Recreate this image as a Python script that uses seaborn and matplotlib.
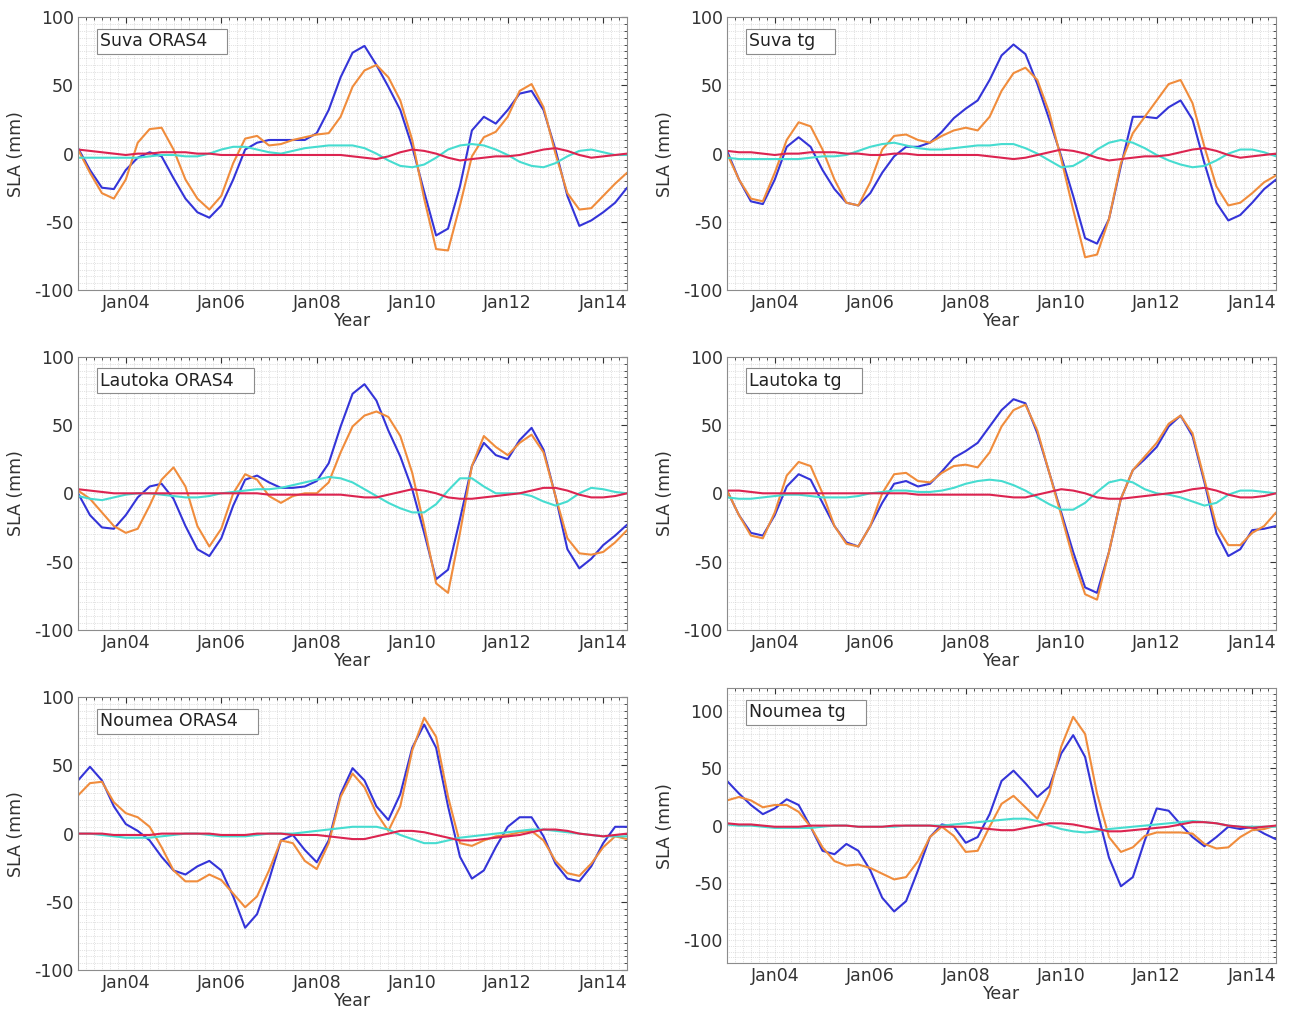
import numpy as np
import matplotlib
matplotlib.use("Agg")
import matplotlib.pyplot as plt
import seaborn as sns
from matplotlib.ticker import MultipleLocator

# quarterly time axis (decimal years)
quarters = np.arange(2003.0, 2014.51, 0.25)

# ---------------- Suva ----------------
suva_oras4_blue = [4, -12, -25, -26, -12, -3, 1, -2, -18, -33, -43, -47,
                   -38, -19, 3, 8, 10, 10, 10, 10, 15, 32, 56, 74,
                   79, 65, 49, 32, 5, -28, -60, -55, -24, 17, 27, 22,
                   32, 44, 46, 32, 3, -31, -53, -49, -43, -36, -25]
suva_oras4_orange = [3, -14, -29, -33, -19, 8, 18, 19, 3, -19, -33, -41,
                     -31, -7, 11, 13, 6, 7, 10, 12, 14, 15, 27, 49,
                     61, 65, 56, 39, 10, -33, -70, -71, -38, -2, 12, 16,
                     27, 46, 51, 34, 0, -29, -41, -40, -31, -22, -14]
suva_oras4_cyan = [-3, -3, -3, -3, -3, -3, -2, -1, -1, -2, -2, 0,
                   3, 5, 5, 3, 1, 0, 2, 4, 5, 6, 6, 6,
                   4, 0, -5, -9, -10, -8, -3, 3, 6, 7, 6, 3,
                   -1, -6, -9, -10, -7, -2, 2, 3, 1, -1, -1]
suva_oras4_red = [3, 2, 1, 0, -1, 0, 0, 1, 1, 1, 0, 0,
                  -1, -1, -1, -1, -1, -1, -1, -1, -1, -1, -1, -2,
                  -3, -4, -2, 1, 3, 2, 0, -3, -5, -4, -3, -2,
                  -2, -1, 1, 3, 4, 2, -1, -3, -2, -1, 0]

suva_tg_blue = [2, -19, -35, -37, -19, 5, 12, 5, -12, -26, -36, -38,
                -29, -14, -2, 5, 5, 8, 16, 26, 33, 39, 54, 72,
                80, 73, 51, 25, -2, -31, -62, -66, -48, -9, 27, 27,
                26, 34, 39, 25, -7, -36, -49, -45, -36, -26, -19]
suva_tg_orange = [0, -19, -33, -35, -14, 10, 23, 20, 3, -19, -36, -38,
                  -21, 3, 13, 14, 10, 8, 13, 17, 19, 17, 27, 46,
                  59, 63, 54, 30, -4, -41, -76, -74, -48, -7, 15, 27,
                  39, 51, 54, 37, 5, -24, -38, -36, -29, -21, -16]
suva_tg_cyan = [-3, -4, -4, -4, -4, -4, -4, -3, -2, -2, -1, 2,
                5, 7, 8, 6, 4, 3, 3, 4, 5, 6, 6, 7,
                7, 4, 0, -5, -10, -9, -4, 3, 8, 10, 8, 4,
                -1, -5, -8, -10, -9, -5, 0, 3, 3, 1, -2]
suva_tg_red = [2, 1, 1, 0, -1, 0, 0, 1, 1, 1, 0, 0,
               -1, -1, 0, 0, -1, -1, -1, -1, -1, -1, -2, -3,
               -4, -3, -1, 1, 3, 2, 0, -3, -5, -4, -3, -2,
               -2, -1, 1, 3, 4, 2, -1, -3, -2, -1, 0]

# ---------------- Lautoka ----------------
lautoka_oras4_blue = [0, -16, -25, -26, -16, -3, 5, 7, -4, -24, -41, -46,
                      -33, -9, 10, 13, 8, 4, 4, 5, 9, 22, 49, 73,
                      80, 68, 46, 27, 3, -29, -63, -56, -19, 20, 37, 28,
                      25, 39, 48, 32, -2, -41, -55, -48, -38, -31, -23]
lautoka_oras4_orange = [2, -4, -14, -24, -29, -26, -9, 10, 19, 5, -24, -39,
                        -26, 0, 14, 10, -2, -7, -2, 0, 0, 8, 30, 49,
                        57, 60, 56, 42, 15, -24, -66, -73, -29, 20, 42, 34,
                        28, 37, 43, 30, -2, -33, -44, -45, -43, -36, -27]
lautoka_oras4_cyan = [-2, -4, -5, -3, -1, 0, 0, -1, -2, -3, -3, -2,
                      0, 1, 2, 3, 3, 4, 6, 8, 10, 12, 11, 8,
                      3, -2, -7, -11, -14, -14, -8, 2, 11, 11, 5, 0,
                      0, 0, -2, -6, -9, -6, 0, 4, 3, 1, 0]
lautoka_oras4_red = [3, 2, 1, 0, 0, 0, 0, 0, 0, 0, 0, 0,
                     0, 0, 0, 0, -1, -1, -1, -1, -1, -1, -1, -2,
                     -3, -3, -1, 1, 3, 2, 0, -3, -4, -4, -3, -2,
                     -1, 0, 2, 4, 4, 2, -1, -3, -3, -2, 0]

lautoka_tg_blue = [2, -16, -29, -31, -16, 5, 14, 10, -7, -24, -36, -39,
                   -24, -7, 7, 9, 5, 7, 16, 26, 31, 37, 49, 61,
                   69, 66, 44, 15, -14, -43, -69, -73, -43, -4, 17, 25,
                   34, 49, 57, 42, 8, -29, -46, -41, -27, -26, -24]
lautoka_tg_orange = [2, -16, -31, -33, -14, 13, 23, 20, 0, -24, -37, -39,
                     -24, 0, 14, 15, 9, 8, 15, 20, 21, 19, 30, 49,
                     61, 65, 46, 15, -16, -48, -74, -78, -43, -4, 17, 27,
                     37, 51, 57, 44, 10, -24, -38, -38, -29, -24, -14]
lautoka_tg_cyan = [-3, -4, -4, -3, -2, -1, -1, -2, -3, -3, -3, -2,
                   0, 1, 2, 2, 1, 1, 2, 4, 7, 9, 10, 9,
                   6, 2, -3, -8, -12, -12, -7, 1, 8, 10, 8, 3,
                   0, -1, -3, -6, -9, -7, -1, 2, 2, 1, 0]
lautoka_tg_red = [2, 2, 1, 0, 0, 0, 0, 0, 0, 0, 0, 0,
                  0, 0, 0, 0, -1, -1, -1, -1, -1, -1, -1, -2,
                  -3, -3, -1, 1, 3, 2, 0, -3, -4, -4, -3, -2,
                  -1, 0, 1, 3, 4, 2, -1, -3, -3, -2, 0]

# ---------------- Noumea ----------------
noumea_oras4_blue = [39, 49, 39, 20, 7, 2, -5, -17, -27, -30, -24, -20,
                     -27, -46, -69, -59, -34, -5, -1, -12, -21, -5, 29, 48,
                     39, 20, 10, 29, 63, 80, 63, 20, -17, -33, -27, -10,
                     5, 12, 12, -2, -22, -33, -35, -24, -7, 5, 5]
noumea_oras4_orange = [28, 37, 38, 23, 15, 12, 5, -10, -27, -35, -35, -30,
                       -34, -44, -54, -46, -27, -5, -7, -20, -26, -7, 27, 44,
                       34, 15, 2, 20, 61, 85, 71, 27, -7, -9, -5, -2,
                       -1, 1, 2, -5, -20, -29, -31, -22, -10, -2, -4]
noumea_oras4_cyan = [0, 0, -1, -2, -3, -3, -3, -2, -1, 0, 0, -1,
                     -2, -2, -2, -1, 0, 0, 0, 1, 2, 3, 4, 5,
                     5, 5, 3, -1, -4, -7, -7, -5, -3, -2, -1, 0,
                     1, 2, 3, 3, 2, 1, 0, -1, -2, -2, -2]
noumea_oras4_red = [0, 0, 0, -1, -1, -1, -1, 0, 0, 0, 0, 0,
                    -1, -1, -1, 0, 0, 0, -1, -1, -1, -2, -3, -4,
                    -4, -2, 0, 2, 2, 1, -1, -3, -5, -5, -4, -3,
                    -2, -1, 1, 3, 3, 2, 0, -1, -2, -1, 0]

noumea_tg_blue = [39, 28, 18, 10, 15, 23, 18, -1, -22, -25, -16, -22,
                  -39, -63, -75, -66, -39, -10, 1, -1, -15, -10, 10, 39,
                  48, 37, 25, 34, 63, 79, 60, 13, -28, -53, -45, -13,
                  15, 13, 1, -10, -18, -10, -1, -3, -1, -7, -12]
noumea_tg_orange = [22, 25, 22, 16, 18, 18, 12, -1, -19, -31, -35, -34,
                    -37, -42, -47, -45, -31, -10, -1, -9, -23, -22, -1, 19,
                    26, 16, 6, 28, 69, 95, 80, 28, -10, -23, -19, -9,
                    -6, -6, -6, -7, -16, -20, -19, -10, -4, -3, 0]
noumea_tg_cyan = [1, 0, 0, -1, -2, -2, -2, -2, -1, 0, 0, -1,
                  -1, -1, -1, 0, 0, 0, 0, 1, 2, 3, 4, 5,
                  6, 6, 4, 0, -3, -5, -6, -5, -3, -2, -1, 0,
                  1, 2, 3, 4, 3, 2, 0, -1, -1, -1, -1]
noumea_tg_red = [2, 1, 1, 0, -1, -1, -1, 0, 0, 0, 0, -1,
                 -1, -1, 0, 0, 0, 0, -1, -1, -1, -2, -3, -4,
                 -4, -2, 0, 2, 2, 1, -1, -3, -5, -5, -4, -3,
                 -2, -1, 1, 3, 3, 2, 0, -1, -2, -1, 0]

year_ticks = [2004, 2006, 2008, 2010, 2012, 2014]
year_labels = ["Jan04", "Jan06", "Jan08", "Jan10", "Jan12", "Jan14"]

line_colors = ["#3434d8", "#f08c3c", "#46dcd0", "#dc2450"]


def draw_panel(ax, title, series, ylim=(-100, 100)):
    """One SLA panel with four series"""
    for vals, col in zip(series, line_colors):
        sns.lineplot(x=quarters, y=vals, color=col, lw=1.5, ax=ax)

    ax.set_xlim(2003.0, 2014.5)
    ax.set_ylim(*ylim)
    ax.set_xticks(year_ticks)
    ax.set_xticklabels(year_labels)
    ax.set_yticks([-100, -50, 0, 50, 100])
    ax.xaxis.set_minor_locator(MultipleLocator(1 / 6))
    ax.yaxis.set_minor_locator(MultipleLocator(5))
    ax.grid(True, which="both", color="#c8c8c8", lw=0.5, ls=":")
    ax.tick_params(which="both", direction="in", top=True, right=True,
                   labelsize=12.5, pad=3, colors="#333333")
    ax.tick_params(which="major", length=4)
    ax.tick_params(which="minor", length=2)
    for sp in ax.spines.values():
        sp.set_color("#8c8c8c")
        sp.set_linewidth(0.8)

    ax.set_xlabel("Year", fontsize=12.5, labelpad=0, color="#333333")
    ax.set_ylabel("SLA (mm)", fontsize=12.5, labelpad=7, color="#333333")
    ax.text(0.04, 0.912, title + "   ", transform=ax.transAxes,
            fontsize=12.5, va="center", ha="left", color="#222222",
            bbox=dict(facecolor="white", edgecolor="#8c8c8c", lw=0.8,
                      boxstyle="square,pad=0.2"))


def main():
    sns.set_style("white")
    plt.rcParams["font.family"] = ["DejaVu Sans"]
    plt.rcParams["axes.unicode_minus"] = False

    fig = plt.figure(figsize=(12.9, 10.14), dpi=100)

    left_x, right_x = 0.0605, 0.5636
    width = 0.4256
    height = 0.269

    ax1 = fig.add_axes([left_x, 0.714, width, height])
    ax2 = fig.add_axes([right_x, 0.714, width, height])
    ax3 = fig.add_axes([left_x, 0.379, width, height])
    ax4 = fig.add_axes([right_x, 0.379, width, height])
    ax5 = fig.add_axes([left_x, 0.0434, width, height])
    ax6 = fig.add_axes([right_x, 0.0503, width, 0.271])

    draw_panel(ax1, "Suva ORAS4",
               [suva_oras4_blue, suva_oras4_orange, suva_oras4_cyan, suva_oras4_red])
    draw_panel(ax2, "Suva tg",
               [suva_tg_blue, suva_tg_orange, suva_tg_cyan, suva_tg_red])
    draw_panel(ax3, "Lautoka ORAS4",
               [lautoka_oras4_blue, lautoka_oras4_orange, lautoka_oras4_cyan, lautoka_oras4_red])
    draw_panel(ax4, "Lautoka tg",
               [lautoka_tg_blue, lautoka_tg_orange, lautoka_tg_cyan, lautoka_tg_red])
    draw_panel(ax5, "Noumea ORAS4",
               [noumea_oras4_blue, noumea_oras4_orange, noumea_oras4_cyan, noumea_oras4_red])
    draw_panel(ax6, "Noumea tg",
               [noumea_tg_blue, noumea_tg_orange, noumea_tg_cyan, noumea_tg_red],
               ylim=(-120, 120))

    fig.savefig("out.png", dpi=100, facecolor="white")
    plt.close(fig)


if __name__ == "__main__":
    main()
